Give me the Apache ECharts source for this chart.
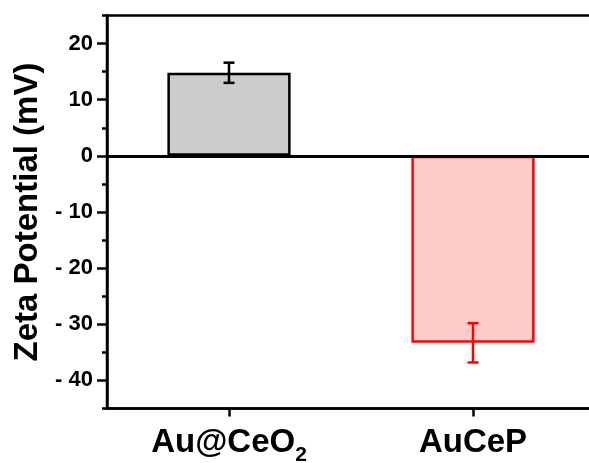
<!DOCTYPE html>
<html>
<head>
<meta charset="utf-8">
<script src="https://cdn.jsdelivr.net/npm/echarts@6/dist/echarts.min.js"></script>
<style>
  html, body { margin: 0; padding: 0; background: #fff; }
  #chart { width: 589px; height: 463px; }
</style>
</head>
<body>
<div id="chart"></div>
<script>
// Zeta potential of the two samples (mV), mean and standard deviation
const categories = ['Au@CeO{sub|2}', 'AuCeP'];
const zetaMean = [14.8, -33.3];
const zetaErr = [1.8, 3.5];
const yTickLabels = [-40, -30, -20, -10, 0, 10, 20];

// Palette: bar fill, bar outline / error bar colour
const fillColors = ['#cccccc', '#ffcccc'];
const lineColors = ['#000000', '#ff0000'];

const FONT = '"Liberation Sans", Arial, Helvetica, sans-serif';

const chart = echarts.init(document.getElementById('chart'), null, { renderer: 'canvas' });

const barData = zetaMean.map((v, i) => ({
  value: v,
  itemStyle: { color: fillColors[i], borderColor: lineColors[i], borderWidth: 2.5 }
}));

const errData = zetaMean.map((v, i) => [i, v - zetaErr[i], v + zetaErr[i]]);

const yBase = {
  type: 'value',
  min: -45,
  max: 25,
  interval: 5,
  gridIndex: 0,
  position: 'left',
  splitLine: { show: false }
};

chart.setOption({
  animation: false,
  backgroundColor: '#ffffff',
  grid: {
    left: 107, right: -6, top: 15.5, bottom: 54.5,
    outerBoundsMode: 'none',
    containLabel: false,
    show: true, borderColor: '#000', borderWidth: 2.5, backgroundColor: 'transparent'
  },
  xAxis: {
    type: 'category',
    data: categories,
    boundaryGap: true,
    axisLine: { onZero: false, lineStyle: { color: '#000', width: 2.5 } },
    axisTick: { show: true, alignWithLabel: true, interval: 0, length: 8, lineStyle: { color: '#000', width: 2.5 } },
    axisLabel: {
      interval: 0,
      hideOverlap: false,
      margin: 10,
      color: '#000',
      fontFamily: FONT,
      fontWeight: 'bold',
      fontSize: 33,
      lineHeight: 48,
      rich: {
        sub: { fontFamily: FONT, fontWeight: 'bold', fontSize: 21, lineHeight: 22, padding: [25, 0, 0, 0], color: '#000' }
      }
    }
  },
  yAxis: [
    Object.assign({}, yBase, {
      name: 'Zeta Potential (mV)',
      nameLocation: 'middle',
      nameGap: 57,
      nameTextStyle: { color: '#000', fontFamily: FONT, fontWeight: 'bold', fontSize: 33 },
      axisLine: { show: true, onZero: false, lineStyle: { color: '#000', width: 2.5 } },
      axisTick: { show: true, length: 10, customValues: yTickLabels, lineStyle: { color: '#000', width: 2.5 } },
      axisLabel: {
        customValues: yTickLabels,
        margin: 14,
        color: '#000',
        fontFamily: FONT,
        fontWeight: 'bold',
        fontSize: 22,
        formatter: v => (v < 0 ? '- ' + Math.abs(v) : String(v))
      }
    }),
    Object.assign({}, yBase, {
      axisLine: { show: false },
      axisTick: { show: true, length: 5, lineStyle: { color: '#000', width: 2.5 } },
      axisLabel: { show: false }
    })
  ],
  series: [
    {
      type: 'bar',
      data: barData,
      barWidth: '50.5%',
      yAxisIndex: 0,
      markLine: {
        silent: true,
        symbol: 'none',
        label: { show: false },
        lineStyle: { color: '#000', width: 3, type: 'solid' },
        emphasis: { disabled: true },
        data: [{ yAxis: 0 }]
      }
    },
    {
      type: 'custom',
      yAxisIndex: 0,
      data: errData,
      z: 5,
      renderItem: function (params, api) {
        const i = api.value(0);
        const lo = api.coord([i, api.value(1)]);
        const hi = api.coord([i, api.value(2)]);
        const half = 5.5;
        const style = { stroke: lineColors[params.dataIndex], lineWidth: 2.5, fill: null };
        return {
          type: 'group',
          children: [
            { type: 'line', shape: { x1: hi[0], y1: hi[1], x2: lo[0], y2: lo[1] }, style: style },
            { type: 'line', shape: { x1: hi[0] - half, y1: hi[1], x2: hi[0] + half, y2: hi[1] }, style: style },
            { type: 'line', shape: { x1: lo[0] - half, y1: lo[1], x2: lo[0] + half, y2: lo[1] }, style: style }
          ]
        };
      }
    }
  ]
});
</script>
</body>
</html>
